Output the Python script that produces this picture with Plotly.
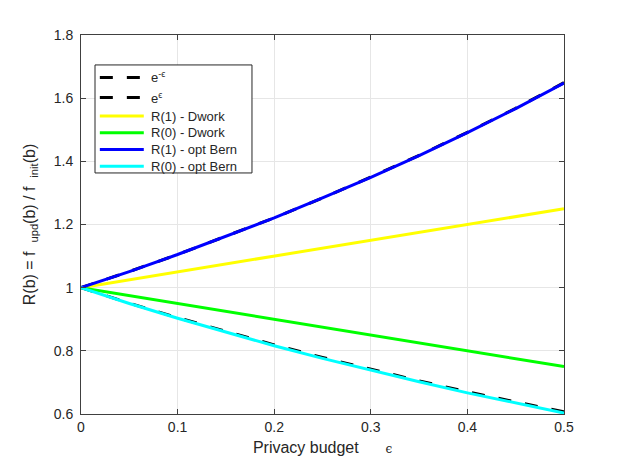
import plotly.graph_objects as go

# privacy budget samples
eps = [0.0, 0.05, 0.10, 0.15, 0.20, 0.25, 0.30, 0.35, 0.40, 0.45, 0.50]

# reference bounds
exp_neg = [1.000, 0.951, 0.905, 0.861, 0.819, 0.779, 0.741, 0.705, 0.670, 0.638, 0.607]
exp_pos = [1.000, 1.051, 1.105, 1.162, 1.221, 1.284, 1.350, 1.419, 1.492, 1.568, 1.649]

# Dwork ratios
dwork_r1 = [1.000, 1.025, 1.050, 1.075, 1.100, 1.125, 1.150, 1.175, 1.200, 1.225, 1.250]
dwork_r0 = [1.000, 0.975, 0.950, 0.925, 0.900, 0.875, 0.850, 0.825, 0.800, 0.775, 0.750]

# optimal Bernoulli ratios
bern_r1 = [1.000, 1.051, 1.105, 1.162, 1.221, 1.284, 1.349, 1.418, 1.491, 1.567, 1.648]
bern_r0 = [1.000, 0.950, 0.903, 0.859, 0.816, 0.776, 0.738, 0.702, 0.667, 0.634, 0.603]

names = ["e<sup>-ϵ</sup>", "e<sup>ϵ</sup>", "R(1) - Dwork", "R(0) - Dwork",
         "R(1) - opt Bern", "R(0) - opt Bern"]
series = [exp_neg, exp_pos, dwork_r1, dwork_r0, bern_r1, bern_r0]
colors = ["black", "black", "#ffff00", "#00ff00", "#0000ff", "#00ffff"]
dashes = ["13px,14px", "13px,14px", "solid", "solid", "solid", "solid"]

fig = go.Figure()
for name, ys, col, dsh in zip(names, series, colors, dashes):
    fig.add_trace(go.Scatter(x=eps, y=ys, mode="lines", name=name, showlegend=False,
                             line=dict(color=col, width=3, dash=dsh)))

# legend drawn by hand so the sample lines match the MATLAB look
fig.add_shape(type="rect", xref="paper", yref="paper", x0=0.029, x1=0.354, y0=0.636, y1=0.921,
              line=dict(color="#262626", width=1), fillcolor="white", layer="above")
row_y = [0.888, 0.835, 0.786, 0.742, 0.698, 0.654]
for name, col, dsh, yy in zip(names, colors, dashes, row_y):
    fig.add_shape(type="line", xref="paper", yref="paper", x0=0.039, x1=0.130, y0=yy, y1=yy,
                  line=dict(color=col, width=3, dash=dsh), layer="above")
    fig.add_annotation(x=0.141, y=yy, xref="paper", yref="paper", text=name, showarrow=False,
                       xanchor="left", yanchor="middle", font=dict(size=13, color="#262626"))

axis_style = dict(showline=True, linecolor="#404040", linewidth=1, mirror="ticks",
                  ticks="inside", ticklen=5, tickcolor="#404040",
                  showgrid=True, gridcolor="#e6e6e6", zeroline=False,
                  tickfont=dict(size=14, color="#262626"))

fig.update_xaxes(range=[0, 0.5], tickvals=[0, 0.1, 0.2, 0.3, 0.4, 0.5],
                 ticktext=["0", "0.1", "0.2", "0.3", "0.4", "0.5"],
                 title=dict(text="Privacy budget      <span style='font-family:DejaVu Serif;font-size:12px'>ϵ</span>",
                            font=dict(size=16, color="#262626"), standoff=8),
                 **axis_style)
fig.update_yaxes(range=[0.6, 1.8], tickvals=[0.6, 0.8, 1.0, 1.2, 1.4, 1.6, 1.8],
                 ticktext=["0.6", "0.8", "1", "1.2", "1.4", "1.6", "1.8"],
                 ticklabelstandoff=4,
                 title=dict(text="R(b) = f  <sub>upd</sub>(b) / f  <sub>init</sub>(b)",
                            font=dict(size=16, color="#262626"), standoff=14),
                 **axis_style)

fig.update_layout(
    width=615, height=459,
    margin=dict(l=73, r=59, t=27, b=53),
    paper_bgcolor="white", plot_bgcolor="white",
    font=dict(family="Liberation Sans, Arial, sans-serif"),
    showlegend=False,
)

fig.write_html("out.html")
